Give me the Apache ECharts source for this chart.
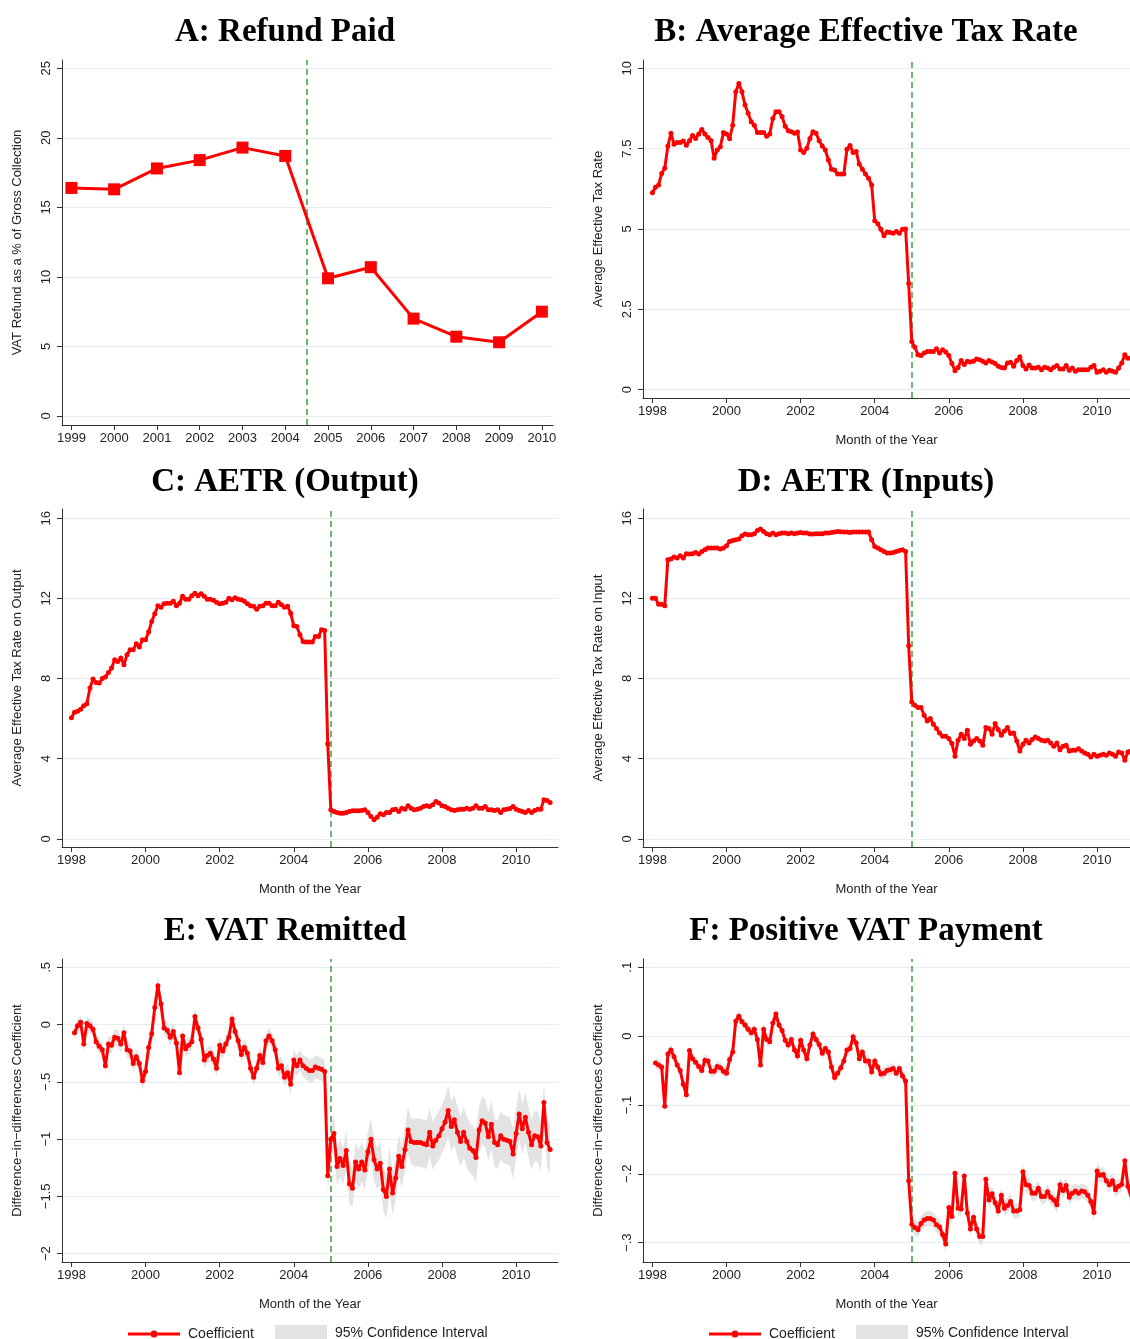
<!DOCTYPE html>
<html>
<head>
<meta charset="utf-8">
<script src="https://cdn.jsdelivr.net/npm/echarts@6/dist/echarts.min.js"></script>
<style>
  html, body { margin: 0; padding: 0; background: #fff; }
  #chart { width: 1130px; height: 1339px; }
</style>
</head>
<body>
<div id="chart"></div>
<script>
// ---- Panel A: annual refunds as % of gross VAT collection ----
const refundYears = [1999, 2000, 2001, 2002, 2003, 2004, 2005, 2006, 2007, 2008, 2009, 2010];
const refundPct = [16.4, 16.3, 17.8, 18.4, 19.3, 18.7, 9.9, 10.7, 7.0, 5.7, 5.3, 7.5];

// ---- Panel B: average effective tax rate, monthly Jan 1998 - Dec 2010 ----
const aetr = [
  6.13, 6.30, 6.37, 6.73, 6.89, 7.58, 7.98, 7.64, 7.69, 7.69, 7.74, 7.61,
  7.75, 7.91, 7.82, 7.96, 8.10, 7.96, 7.85, 7.75, 7.20, 7.46, 7.56, 8.00,
  7.96, 7.81, 8.23, 9.27, 9.53, 9.27, 8.86, 8.60, 8.34, 8.23, 8.00, 8.00,
  8.00, 7.89, 7.96, 8.44, 8.65, 8.65, 8.49, 8.20, 8.06, 8.03, 7.98, 8.02,
  7.46, 7.38, 7.51, 7.82, 8.03, 7.98, 7.75, 7.58, 7.46, 7.15, 6.86, 6.84,
  6.71, 6.71, 6.71, 7.48, 7.60, 7.38, 7.41, 7.02, 6.86, 6.71, 6.58, 6.37,
  5.26, 5.16, 4.99, 4.79, 4.91, 4.89, 4.87, 4.92, 4.87, 4.99, 5.00, 3.30,
  1.50, 1.32, 1.09, 1.06, 1.14, 1.19, 1.19, 1.19, 1.27, 1.14, 1.24, 1.17,
  1.06, 0.81, 0.59, 0.69, 0.91, 0.78, 0.88, 0.86, 0.88, 0.95, 0.93, 0.88,
  0.83, 0.91, 0.86, 0.81, 0.73, 0.69, 0.67, 0.83, 0.85, 0.73, 0.91, 1.02,
  0.75, 0.64, 0.77, 0.67, 0.67, 0.70, 0.62, 0.70, 0.67, 0.62, 0.70, 0.75,
  0.64, 0.64, 0.75, 0.60, 0.67, 0.57, 0.62, 0.62, 0.62, 0.62, 0.70, 0.75,
  0.54, 0.57, 0.62, 0.54, 0.60, 0.57, 0.54, 0.67, 0.83, 1.09, 0.98, 0.95
];

// ---- Panel C: effective tax rate on output, monthly Jan 1998 - Dec 2010 ----
const aetrOutput = [
  6.04, 6.31, 6.37, 6.47, 6.64, 6.74, 7.52, 7.97, 7.80, 7.77, 8.00, 8.07,
  8.30, 8.52, 8.94, 8.85, 9.02, 8.69, 9.18, 9.43, 9.43, 9.73, 9.57, 9.93,
  9.93, 10.32, 10.85, 11.23, 11.63, 11.56, 11.73, 11.76, 11.76, 11.85, 11.63, 11.76,
  12.10, 11.96, 11.96, 12.13, 12.26, 12.13, 12.23, 12.10, 11.96, 11.96, 11.90, 11.80,
  11.73, 11.76, 11.80, 12.01, 11.93, 12.03, 11.96, 11.93, 11.85, 11.73, 11.63, 11.60,
  11.46, 11.60, 11.63, 11.76, 11.76, 11.63, 11.63, 11.80, 11.68, 11.56, 11.60, 11.26,
  10.63, 10.60, 10.18, 9.85, 9.82, 9.82, 9.82, 10.10, 10.10, 10.43, 10.40, 4.74,
  1.45, 1.36, 1.31, 1.28, 1.28, 1.31, 1.36, 1.40, 1.40, 1.40, 1.41, 1.45,
  1.31, 1.11, 0.95, 1.08, 1.25, 1.20, 1.31, 1.31, 1.45, 1.48, 1.36, 1.53,
  1.48, 1.65, 1.53, 1.45, 1.48, 1.53, 1.61, 1.65, 1.61, 1.70, 1.86, 1.78,
  1.65, 1.61, 1.53, 1.45, 1.41, 1.45, 1.48, 1.48, 1.53, 1.48, 1.53, 1.65,
  1.53, 1.53, 1.61, 1.45, 1.45, 1.41, 1.45, 1.31, 1.45, 1.48, 1.51, 1.61,
  1.48, 1.41, 1.36, 1.31, 1.41, 1.31, 1.41, 1.48, 1.48, 1.95, 1.91, 1.81
];

// ---- Panel D: effective tax rate on inputs, monthly Jan 1998 - Dec 2010 ----
const aetrInput = [
  12.00, 12.00, 11.70, 11.70, 11.63, 13.93, 13.96, 14.06, 14.01, 14.13, 14.01, 14.23,
  14.21, 14.23, 14.29, 14.21, 14.34, 14.43, 14.51, 14.51, 14.51, 14.51, 14.46, 14.51,
  14.63, 14.84, 14.89, 14.93, 14.96, 15.13, 15.21, 15.17, 15.17, 15.22, 15.39, 15.46,
  15.34, 15.22, 15.17, 15.26, 15.17, 15.22, 15.26, 15.26, 15.22, 15.26, 15.22, 15.26,
  15.29, 15.26, 15.26, 15.21, 15.21, 15.22, 15.22, 15.22, 15.26, 15.26, 15.29, 15.31,
  15.34, 15.32, 15.31, 15.31, 15.29, 15.31, 15.31, 15.31, 15.31, 15.31, 15.31, 14.93,
  14.59, 14.51, 14.43, 14.34, 14.26, 14.26, 14.29, 14.34, 14.39, 14.43, 14.34, 9.63,
  6.83, 6.67, 6.55, 6.55, 6.17, 5.88, 6.00, 5.72, 5.50, 5.28, 5.12, 5.12,
  5.00, 4.75, 4.12, 4.92, 5.22, 5.00, 5.42, 4.72, 4.88, 5.00, 4.88, 4.67,
  5.55, 5.50, 5.22, 5.75, 5.45, 5.17, 5.38, 5.55, 5.25, 5.28, 4.88, 4.38,
  4.72, 4.92, 4.78, 4.95, 5.08, 5.00, 4.92, 4.88, 4.92, 4.78, 4.62, 4.78,
  4.45, 4.62, 4.67, 4.38, 4.42, 4.42, 4.50, 4.38, 4.28, 4.22, 4.08, 4.22,
  4.12, 4.17, 4.22, 4.17, 4.28, 4.22, 4.12, 4.33, 4.28, 3.92, 4.33, 4.45
];

// ---- Panel E: VAT remitted, DiD coefficient, monthly Feb 1998 - Dec 2010 ----
const remitCoef = [
  -0.07, -0.01, 0.02, -0.17, 0.01, -0.01, -0.04, -0.15, -0.19, -0.22, -0.36,
  -0.17, -0.18, -0.11, -0.12, -0.17, -0.07, -0.22, -0.23, -0.34, -0.28, -0.34, -0.49,
  -0.41, -0.20, -0.08, 0.15, 0.34, 0.18, -0.03, -0.05, -0.11, -0.06, -0.16, -0.42,
  -0.10, -0.21, -0.18, -0.15, 0.07, -0.03, -0.13, -0.31, -0.27, -0.25, -0.30, -0.38,
  -0.18, -0.23, -0.17, -0.11, 0.05, -0.06, -0.14, -0.26, -0.20, -0.25, -0.38, -0.46,
  -0.38, -0.27, -0.33, -0.14, -0.10, -0.14, -0.22, -0.38, -0.36, -0.46, -0.42, -0.52,
  -0.31, -0.36, -0.31, -0.36, -0.38, -0.40, -0.40, -0.37, -0.38, -0.39, -0.41, -1.32,
  -1.00, -0.95, -1.24, -1.17, -1.23, -1.10, -1.39, -1.43, -1.20, -1.26, -1.20, -1.27,
  -1.11, -1.00, -1.18, -1.26, -1.21, -1.44, -1.50, -1.26, -1.47, -1.34, -1.15, -1.24,
  -1.09, -0.92, -1.02, -1.03, -1.03, -1.03, -1.04, -1.05, -0.94, -1.06, -1.01, -0.97,
  -0.91, -0.85, -0.75, -0.89, -0.83, -0.94, -1.02, -0.94, -1.02, -1.08, -1.10, -1.16,
  -0.92, -0.84, -0.86, -0.98, -0.87, -1.03, -1.05, -0.97, -1.00, -1.01, -1.02, -1.13,
  -0.95, -0.78, -0.91, -0.81, -0.94, -1.05, -0.97, -0.98, -1.06, -0.68, -1.03, -1.09
];
// half-width of the 95% interval around each coefficient
const remitHalfCI = [
  0.06, 0.06, 0.06, 0.07, 0.06, 0.06, 0.06, 0.06, 0.06, 0.06, 0.07,
  0.07, 0.07, 0.07, 0.07, 0.07, 0.07, 0.07, 0.07, 0.07, 0.07, 0.07, 0.08,
  0.08, 0.08, 0.08, 0.09, 0.09, 0.09, 0.07, 0.07, 0.07, 0.07, 0.07, 0.08,
  0.07, 0.07, 0.07, 0.07, 0.07, 0.07, 0.07, 0.07, 0.07, 0.07, 0.07, 0.07,
  0.07, 0.07, 0.07, 0.07, 0.07, 0.07, 0.07, 0.07, 0.07, 0.07, 0.07, 0.07,
  0.07, 0.07, 0.07, 0.07, 0.07, 0.07, 0.07, 0.08, 0.08, 0.08, 0.08, 0.09,
  0.09, 0.09, 0.09, 0.09, 0.10, 0.10, 0.10, 0.10, 0.10, 0.10, 0.10, 0.14,
  0.15, 0.15, 0.16, 0.16, 0.16, 0.17, 0.17, 0.17, 0.17, 0.17, 0.17, 0.17,
  0.17, 0.18, 0.18, 0.18, 0.19, 0.19, 0.19, 0.19, 0.19, 0.18, 0.18, 0.18,
  0.19, 0.20, 0.20, 0.21, 0.21, 0.21, 0.21, 0.21, 0.21, 0.21, 0.21, 0.21,
  0.21, 0.22, 0.22, 0.22, 0.22, 0.22, 0.22, 0.22, 0.22, 0.22, 0.22, 0.22,
  0.21, 0.21, 0.21, 0.21, 0.21, 0.21, 0.21, 0.21, 0.21, 0.21, 0.21, 0.22,
  0.22, 0.22, 0.22, 0.22, 0.22, 0.22, 0.22, 0.22, 0.22, 0.16, 0.21, 0.21
];

// ---- Panel F: positive VAT payment, DiD coefficient, monthly Feb 1998 - Dec 2010 ----
const posCoef = [
  -0.039, -0.042, -0.045, -0.102, -0.026, -0.020, -0.030, -0.042, -0.050, -0.070, -0.085,
  -0.021, -0.033, -0.038, -0.044, -0.050, -0.035, -0.036, -0.051, -0.051, -0.044, -0.046, -0.051,
  -0.054, -0.034, -0.023, 0.022, 0.029, 0.021, 0.016, 0.010, 0.005, 0.010, -0.005, -0.042,
  0.010, -0.005, -0.008, 0.019, 0.032, 0.016, 0.008, -0.006, -0.013, -0.005, -0.020, -0.029,
  -0.006, -0.020, -0.033, -0.013, 0.003, -0.005, -0.012, -0.025, -0.018, -0.023, -0.045, -0.060,
  -0.054, -0.046, -0.036, -0.020, -0.018, -0.001, -0.010, -0.033, -0.023, -0.036, -0.036, -0.052,
  -0.036, -0.045, -0.055, -0.054, -0.050, -0.049, -0.047, -0.054, -0.047, -0.058, -0.065, -0.210,
  -0.273, -0.278, -0.281, -0.272, -0.267, -0.265, -0.265, -0.267, -0.274, -0.277, -0.288, -0.302,
  -0.249, -0.262, -0.199, -0.250, -0.251, -0.203, -0.257, -0.280, -0.263, -0.280, -0.291, -0.291,
  -0.208, -0.238, -0.229, -0.242, -0.254, -0.231, -0.250, -0.246, -0.240, -0.254, -0.254, -0.252,
  -0.197, -0.216, -0.217, -0.228, -0.228, -0.221, -0.233, -0.233, -0.226, -0.234, -0.238, -0.245,
  -0.216, -0.224, -0.217, -0.234, -0.228, -0.225, -0.228, -0.225, -0.226, -0.231, -0.240, -0.256,
  -0.196, -0.202, -0.201, -0.210, -0.216, -0.210, -0.223, -0.218, -0.215, -0.181, -0.218, -0.233
];
const posHalfCI = [
  0.008, 0.008, 0.008, 0.010, 0.008, 0.008, 0.008, 0.008, 0.008, 0.008, 0.009,
  0.008, 0.008, 0.008, 0.008, 0.008, 0.008, 0.008, 0.008, 0.008, 0.008, 0.008, 0.008,
  0.008, 0.008, 0.008, 0.008, 0.008, 0.008, 0.008, 0.008, 0.008, 0.008, 0.008, 0.008,
  0.008, 0.008, 0.008, 0.008, 0.009, 0.008, 0.008, 0.008, 0.008, 0.008, 0.008, 0.008,
  0.008, 0.008, 0.008, 0.008, 0.008, 0.008, 0.008, 0.008, 0.008, 0.008, 0.008, 0.008,
  0.008, 0.008, 0.008, 0.008, 0.008, 0.008, 0.008, 0.008, 0.008, 0.008, 0.008, 0.008,
  0.008, 0.008, 0.008, 0.008, 0.008, 0.008, 0.008, 0.008, 0.008, 0.008, 0.008, 0.010,
  0.011, 0.011, 0.011, 0.011, 0.011, 0.011, 0.011, 0.011, 0.011, 0.011, 0.011, 0.012,
  0.011, 0.011, 0.011, 0.011, 0.011, 0.011, 0.011, 0.011, 0.011, 0.011, 0.012, 0.012,
  0.011, 0.011, 0.011, 0.011, 0.011, 0.011, 0.011, 0.011, 0.011, 0.011, 0.011, 0.011,
  0.011, 0.011, 0.011, 0.011, 0.011, 0.011, 0.011, 0.011, 0.011, 0.011, 0.011, 0.011,
  0.011, 0.011, 0.011, 0.011, 0.011, 0.011, 0.011, 0.011, 0.011, 0.011, 0.011, 0.012,
  0.011, 0.011, 0.011, 0.011, 0.011, 0.011, 0.011, 0.011, 0.011, 0.012, 0.012, 0.012
];

// ---- Axis ticks ----
const annualTicks = [1999, 2000, 2001, 2002, 2003, 2004, 2005, 2006, 2007, 2008, 2009, 2010];
const monthlyTicks = [1998, 2000, 2002, 2004, 2006, 2008, 2010];
const refundTicks = [0, 5, 10, 15, 20, 25];
const aetrTicks = [0, 2.5, 5, 7.5, 10];
const rateTicks = [0, 4, 8, 12, 16];
const remitTicks = [-2, -1.5, -1, -0.5, 0, 0.5];
const posTicks = [-0.3, -0.2, -0.1, 0, 0.1];

// reform dates (dashed reference lines)
const refundReform = 2004.5;
const monthlyReform = 2005;

// ---- Styling ----
const SANS = '"Liberation Sans", Arial, Helvetica, sans-serif';
const SERIF = '"Liberation Serif", "Times New Roman", serif';
const RED = '#ff0000';
const GREEN = '#3c9f40';
const BAND = '#e3e3e3';
const AXIS = '#333333';
const GRIDLINE = '#e6eef0';
const TEXT = '#222222';

// x position of each month: year + (month - 1) / 12
function monthX(startYear, startMonth, count) {
  const out = [];
  for (let i = 0; i < count; i++) {
    const m = startMonth - 1 + i;
    out.push(startYear + Math.floor(m / 12) + (m % 12) / 12);
  }
  return out;
}
function pairs(xs, ys) { return ys.map((y, i) => [xs[i], y]); }

// Stata-like tick labels: ".5", "−1.5"
function fmtTick(v) {
  let s = String(Math.abs(v));
  if (s.startsWith('0.')) s = s.slice(1);
  return (v < 0 ? '\u2212' : '') + s;
}

const xsJan = monthX(1998, 1, 156);
const xsFeb = monthX(1998, 2, 155);

// right-hand panels run off the page edge, so their x range stops short of 2011
const leftX = { min: 1997.746, max: 2011.13, ticks: monthlyTicks, name: 'Month of the Year' };
const rightX = { min: 1997.746, max: 2010.89, ticks: monthlyTicks, name: 'Month of the Year' };

const panels = [
  { title: 'A: Refund Paid', cx: 280, titleTop: 11,
    grid: { left: 62, top: 60, width: 491, height: 365 },
    x: { min: 1998.78, max: 2010.26, ticks: annualTicks, name: '' },
    y: { min: -0.65, max: 25.6, ticks: refundTicks, name: 'VAT Refund as a % of Gross Collection' } },
  { title: 'B: Average Effective Tax Rate', cx: 861, titleTop: 11,
    grid: { left: 643, top: 60, width: 487, height: 338 },
    x: rightX,
    y: { min: -0.26, max: 10.26, ticks: aetrTicks, name: 'Average Effective Tax Rate' } },
  { title: 'C: AETR (Output)', cx: 280, titleTop: 461,
    grid: { left: 62, top: 509, width: 496, height: 338 },
    x: leftX,
    y: { min: -0.41, max: 16.46, ticks: rateTicks, name: 'Average Effective Tax Rate on Output' } },
  { title: 'D: AETR (Inputs)', cx: 861, titleTop: 461,
    grid: { left: 643, top: 509, width: 487, height: 338 },
    x: rightX,
    y: { min: -0.41, max: 16.46, ticks: rateTicks, name: 'Average Effective Tax Rate on Input' } },
  { title: 'E: VAT Remitted', cx: 280, titleTop: 910,
    grid: { left: 62, top: 959, width: 496, height: 303 },
    x: leftX,
    y: { min: -2.073, max: 0.573, ticks: remitTicks, name: 'Difference\u2212in\u2212differences Coefficient' } },
  { title: 'F: Positive VAT Payment', cx: 861, titleTop: 910,
    grid: { left: 643, top: 959, width: 487, height: 303 },
    x: rightX,
    y: { min: -0.328, max: 0.112, ticks: posTicks, name: 'Difference\u2212in\u2212differences Coefficient' } }
];

const titles = [], grids = [], xAxes = [], yAxes = [];
panels.forEach((p, i) => {
  titles.push({
    text: p.title, left: p.cx, top: p.titleTop, textAlign: 'center',
    textStyle: { fontFamily: SERIF, fontWeight: 'bold', fontSize: 33, color: '#000' }
  });
  grids.push(Object.assign({ containLabel: false }, p.grid));
  xAxes.push({
    type: 'value', gridIndex: i, min: p.x.min, max: p.x.max,
    name: p.x.name, nameLocation: 'middle', nameGap: 36,
    nameTextStyle: { fontFamily: SANS, fontSize: 13, color: TEXT },
    axisLine: { show: true, onZero: false, lineStyle: { color: AXIS, width: 1 } },
    axisTick: { show: true, length: 5, customValues: p.x.ticks, lineStyle: { color: AXIS } },
    axisLabel: { customValues: p.x.ticks, margin: 7, fontFamily: SANS, fontSize: 13, color: TEXT,
                 formatter: v => String(v) },
    splitLine: { show: false }
  });
  yAxes.push({
    type: 'value', gridIndex: i, min: p.y.min, max: p.y.max,
    name: p.y.name, nameLocation: 'middle', nameGap: 38,
    nameTextStyle: { fontFamily: SANS, fontSize: 13, color: TEXT },
    axisLine: { show: true, onZero: false, lineStyle: { color: AXIS, width: 1 } },
    axisTick: { show: true, length: 5, customValues: p.y.ticks, lineStyle: { color: AXIS } },
    axisLabel: { customValues: p.y.ticks, rotate: 90, margin: 9, fontFamily: SANS, fontSize: 13, color: TEXT,
                 formatter: fmtTick },
    splitLine: { show: true, lineStyle: { color: GRIDLINE, width: 1 } }
  });
});

function reformLine(x) {
  return {
    silent: true, symbol: ['none', 'none'], label: { show: false },
    lineStyle: { color: GREEN, type: [6, 4], width: 1.5 },
    emphasis: { disabled: true },
    data: [{ xAxis: x }]
  };
}

function coefLine(idx, data, extra) {
  return Object.assign({
    type: 'line', name: 'Coefficient', xAxisIndex: idx, yAxisIndex: idx, data,
    symbol: 'circle', symbolSize: 5, showSymbol: true, clip: true,
    lineStyle: { color: RED, width: 3 }, itemStyle: { color: RED },
    z: 5, animation: false
  }, extra || {});
}

// shaded 95% interval: one polygon through the upper bounds and back along the lower bounds
function bandSeries(idx, coef, half, xs) {
  const rows = xs.map((x, i) => [x, coef[i] - half[i], coef[i] + half[i]]);
  return {
    type: 'custom', name: '95% Confidence Interval', xAxisIndex: idx, yAxisIndex: idx,
    data: rows, encode: { x: 0, y: [1, 2] }, z: 2, silent: true, animation: false,
    itemStyle: { color: BAND },
    renderItem(params, api) {
      if (params.dataIndex !== 0) return null;
      const upper = rows.map(r => api.coord([r[0], r[2]]));
      const lower = rows.map(r => api.coord([r[0], r[1]])).reverse();
      return { type: 'polygon', shape: { points: upper.concat(lower) }, style: { fill: BAND } };
    },
    markLine: reformLine(monthlyReform)
  };
}

const series = [
  coefLine(0, pairs(refundYears, refundPct), {
    name: 'Refund', symbol: 'rect', symbolSize: 12, markLine: reformLine(refundReform)
  }),
  coefLine(1, pairs(xsJan, aetr), { name: 'AETR', markLine: reformLine(monthlyReform) }),
  coefLine(2, pairs(xsJan, aetrOutput), { name: 'AETR output', markLine: reformLine(monthlyReform) }),
  coefLine(3, pairs(xsJan, aetrInput), { name: 'AETR input', markLine: reformLine(monthlyReform) }),
  bandSeries(4, remitCoef, remitHalfCI, xsFeb),
  coefLine(4, pairs(xsFeb, remitCoef)),
  bandSeries(5, posCoef, posHalfCI, xsFeb),
  coefLine(5, pairs(xsFeb, posCoef))
];

// legend swatch: thick red line with a small round marker in the middle
const LINE_ICON = 'path://M0,2.5h22.5v3h-22.5z M29.5,2.5h22.5v3h-22.5z M22.5,4a3.5,3.5 0 1,0 7,0a3.5,3.5 0 1,0 -7,0z';
function legendItem(left, top, name, icon, h, color) {
  return {
    left, top, padding: 0, orient: 'horizontal', selectedMode: false,
    itemWidth: 52, itemHeight: h,
    textStyle: { fontFamily: SANS, fontSize: 14, color: TEXT, padding: [0, 0, 0, 3] },
    data: [{ name, icon, itemStyle: { color } }]
  };
}

const legends = [
  legendItem(128, 1327, 'Coefficient', LINE_ICON, 7, RED),
  legendItem(275, 1325, '95% Confidence Interval', 'rect', 16, BAND),
  legendItem(709, 1327, 'Coefficient', LINE_ICON, 7, RED),
  legendItem(856, 1325, '95% Confidence Interval', 'rect', 16, BAND)
];

const chart = echarts.init(document.getElementById('chart'), null, { renderer: 'canvas' });
chart.setOption({
  backgroundColor: '#ffffff',
  animation: false,
  title: titles,
  grid: grids,
  xAxis: xAxes,
  yAxis: yAxes,
  legend: legends,
  series
});
</script>
</body>
</html>
